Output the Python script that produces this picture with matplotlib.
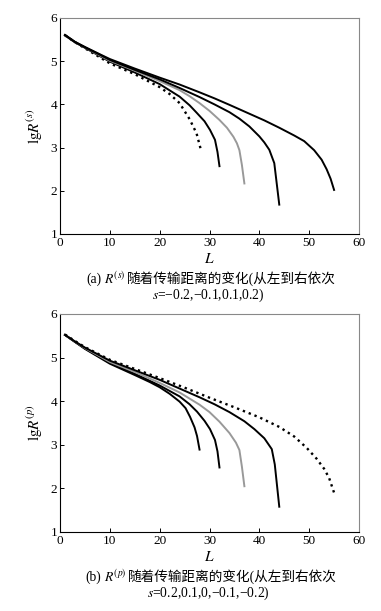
import matplotlib
matplotlib.use("Agg")
import matplotlib.pyplot as plt

plt.rcParams['font.family'] = ['Liberation Serif', 'Noto Sans CJK SC', 'DejaVu Sans']
plt.rcParams['mathtext.fontset'] = 'stix'
plt.rcParams['font.size'] = 9

# panel (a): lg R^(s), curves from left to right
a_L = [
    [1, 3, 5, 10, 15, 20, 22, 24, 26, 27.4, 28.2],
    [1, 3, 5, 10, 15, 20, 24, 26, 27.4, 29, 30.1, 31.1, 31.6, 32],
    [1, 3, 5, 10, 15, 20, 24, 26, 28, 30, 32, 33.5, 34.8, 35.5, 36, 36.5, 37],
    [1, 3, 5, 8, 10, 15, 20, 24, 28, 31, 34, 36, 38, 40, 41, 42, 43, 44],
    [1, 3, 5, 8, 10, 15, 20, 24, 28, 31, 34, 37.5, 41, 44, 47, 49, 51, 52.5, 53.5, 54.3, 55],
]
a_lg = [
    [5.60, 5.44, 5.30, 4.95, 4.70, 4.40, 4.24, 4.03, 3.66, 3.33, 2.98],
    [5.60, 5.44, 5.31, 4.99, 4.74, 4.47, 4.18, 3.98, 3.81, 3.61, 3.41, 3.18, 2.90, 2.57],
    [5.60, 5.44, 5.32, 5.01, 4.78, 4.54, 4.33, 4.19, 4.03, 3.85, 3.64, 3.46, 3.25, 3.10, 2.94, 2.60, 2.17],
    [5.60, 5.44, 5.32, 5.15, 5.03, 4.80, 4.58, 4.38, 4.17, 4.00, 3.82, 3.67, 3.49, 3.26, 3.12, 2.95, 2.64, 1.68],
    [5.61, 5.45, 5.33, 5.16, 5.05, 4.83, 4.62, 4.46, 4.28, 4.14, 3.99, 3.81, 3.63, 3.46, 3.28, 3.15, 2.94, 2.72, 2.50, 2.28, 2.02],
]
a_style = [":", "-", "-", "-", "-"]
a_color = ["black", "black", "#999999", "black", "black"]

# panel (b): lg R^(p), curves from left to right
b_L = [
    [1, 3, 5, 10, 15, 18, 20, 22, 24, 25.2, 26.1, 27, 27.5, 28],
    [1, 3, 5, 10, 15, 20, 24, 26, 27.5, 29, 30.1, 31.1, 31.6, 32],
    [1, 3, 5, 10, 15, 20, 24, 28, 30, 32, 34, 35.3, 36, 36.5, 37],
    [1, 3, 5, 10, 15, 20, 24, 28, 31, 34, 37, 39, 41, 42.5, 43.1, 44],
    [1, 3, 5, 10, 15, 20, 25, 30, 35, 40, 44, 47, 49.5, 51.5, 53, 54, 55],
]
b_lg = [
    [5.52, 5.36, 5.20, 4.86, 4.60, 4.44, 4.32, 4.17, 3.99, 3.84, 3.64, 3.40, 3.20, 2.89],
    [5.52, 5.36, 5.21, 4.88, 4.63, 4.36, 4.11, 3.93, 3.76, 3.55, 3.36, 3.11, 2.85, 2.48],
    [5.52, 5.37, 5.22, 4.90, 4.67, 4.42, 4.20, 3.92, 3.75, 3.53, 3.27, 3.05, 2.88, 2.50, 2.05],
    [5.52, 5.37, 5.23, 4.93, 4.71, 4.49, 4.29, 4.09, 3.93, 3.75, 3.54, 3.36, 3.15, 2.90, 2.55, 1.58],
    [5.53, 5.38, 5.24, 4.95, 4.74, 4.53, 4.31, 4.08, 3.86, 3.63, 3.41, 3.19, 2.93, 2.68, 2.45, 2.24, 1.90],
]
b_style = ["-", "-", "-", "-", ":"]
b_color = ["black", "black", "#999999", "black", "black"]

W, H = 381, 611
fig = plt.figure(figsize=(W/100, H/100), dpi=100)
ax1 = fig.add_axes([60/W, 1-234/H, 299/W, 216/H])
ax2 = fig.add_axes([60/W, 1-532/H, 299/W, 218/H])

def draw(ax, Ls, lgs, styles, colors, ylab):
    for L, lg, ls, c in zip(Ls, lgs, styles, colors):
        ax.plot(L, lg, ls, color=c, lw=1.4 if ls == "-" else 1.7)
    ax.set_xlim(0, 60)
    ax.set_ylim(1, 6)
    ax.set_xticks(range(0, 61, 10))
    ax.set_yticks(range(1, 7))
    ax.tick_params(direction="in", length=3, width=0.7, pad=2, labelsize=9.5)
    for side in ["top", "right"]:
        ax.spines[side].set_color("#888888")
    for sp in ax.spines.values():
        sp.set_linewidth(0.8)
    ax.set_xlabel(r"$L$", fontsize=11, labelpad=2)
    ax.set_ylabel(ylab, fontsize=11, labelpad=4)

draw(ax1, a_L, a_lg, a_style, a_color, r"$\mathrm{lg}R^{(s)}$")
draw(ax2, b_L, b_lg, b_style, b_color, r"$\mathrm{lg}R^{(p)}$")

renderer = fig.canvas.get_renderer()

def caption(y, pieces, gaps, size=9.8, xc=211):
    texts = [fig.text(0, 1-y/H, s, fontsize=size, va="center", ha="left") for s in pieces]
    widths = [t.get_window_extent(renderer).width for t in texts]
    x = xc - (sum(widths) + sum(gaps)) / 2
    for t, w, g in zip(texts, widths, gaps + [0]):
        t.set_x(x / W)
        x += w + g

caption(279, ["(a)", r"$R^{(s)}$", "随着传输距离的变化(从左到右依次"], [3, 1])
caption(295, [r"$s$=−0.2,−0.1,0.1,0.2)"], [], xc=208)
caption(577, ["(b)", r"$R^{(p)}$", "随着传输距离的变化(从左到右依次"], [3, 1])
caption(593, [r"$s$=0.2,0.1,0,−0.1,−0.2)"], [], xc=208)

fig.savefig("out.png", dpi=100)
